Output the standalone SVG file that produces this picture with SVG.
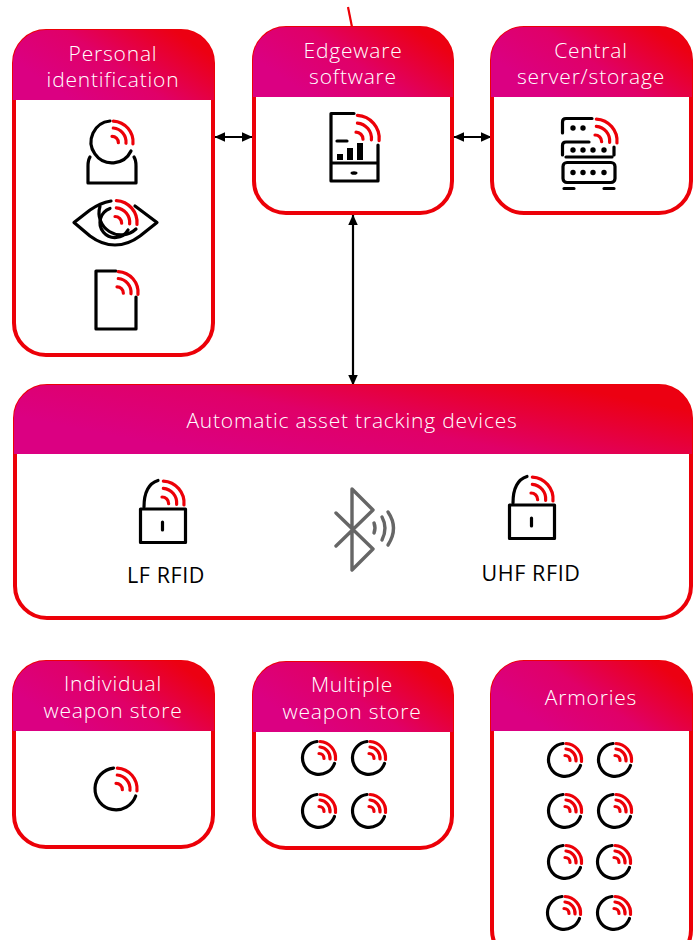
<svg xmlns="http://www.w3.org/2000/svg" width="699" height="940" viewBox="0 0 699 940">
<style>
.box{fill:#fff;stroke:#ec0008;stroke-width:4}
.hd{fill:url(#g);stroke:url(#g);stroke-width:2}
.t{font-family:"Open Sans","Liberation Sans",sans-serif;font-weight:300;font-size:21px;letter-spacing:0.8px;fill:#fff;text-anchor:middle}
.l{font-family:"Open Sans","Liberation Sans",sans-serif;font-weight:400;font-size:21.5px;letter-spacing:0.6px;fill:#000;text-anchor:middle}
.k{fill:none;stroke:#000;stroke-width:3.2;stroke-linecap:round;stroke-linejoin:round;vector-effect:non-scaling-stroke}
.r{fill:none;stroke:#ec0008;stroke-width:3.2;stroke-linecap:round;vector-effect:non-scaling-stroke}
.gr{fill:none;stroke:#666;stroke-width:3.4;stroke-linecap:round;stroke-linejoin:round}
.cn{fill:none;stroke:#000;stroke-width:2.2}
</style>
<defs>
<linearGradient id="g" x1="0" y1="0.75" x2="1" y2="0.25">
<stop offset="0.12" stop-color="#db0082"/><stop offset="0.5" stop-color="#e00068"/><stop offset="0.95" stop-color="#ec0012"/>
</linearGradient>
<marker id="a" viewBox="0 0 10 10" refX="9.500" refY="5" markerWidth="11" markerHeight="11" markerUnits="userSpaceOnUse" orient="auto-start-reverse"><path d="M0,0.5 L10,5 L0,9.500 Z" fill="#000"/></marker>
<g id="wifi">
<path class="r" d="M1,-16.500 A16.500,16.500 0 0 1 16.500,1.500"/>
<path class="r" d="M1,-11 A11,11 0 0 1 11,1"/>
<path class="r" d="M0,-4.500 A5,5 0 0 1 5,0.500"/>
</g>
<g id="ring">
<path class="k" d="M-2,-16.500 A16.500,16.500 0 1 0 15.500,5.500"/>
<use href="#wifi"/>
</g>
</defs>

<g id="connectors">
<path d="M348,7 L352,27" fill="none" stroke="#ec0008" stroke-width="2.200"/>
<path class="cn" d="M215,137 H252" marker-start="url(#a)" marker-end="url(#a)"/>
<path class="cn" d="M454,137 H491" marker-start="url(#a)" marker-end="url(#a)"/>
<path class="cn" d="M353,215 V385" marker-start="url(#a)" marker-end="url(#a)"/>
</g>

<g id="personal">
<rect class="box" x="14" y="31" width="199" height="324" rx="32"/>
<path class="hd" d="M14,99 V63 A32,32 0 0 1 46,31 H181 A32,32 0 0 1 213,63 V99 Z"/>
<text class="t" x="113" y="61">Personal</text>
<text class="t" x="113" y="87">identification</text>
<path class="k" d="M110,121 A21,21 0 1 0 131,151"/>
<use href="#wifi" transform="translate(112,142) scale(1.27)"/>
<path class="k" d="M90,157 Q88,160 88,166 V183 H136 V166 Q136,160 134,157"/>
<path class="k" d="M111,201 Q100,203 90,210 L74,222.500 L90,236 Q102,245 115,245 Q128,245 140,236 L157,222.500 L143,212 L135,206"/>
<path class="k" d="M100,206.400 A22,22 0 0 0 136,229"/>
<path class="k" d="M110,208.400 A15,15 0 1 0 128,230"/>
<use href="#wifi" transform="translate(115,222.500) scale(1.33)"/>
<path class="k" d="M116,271 H96 V329 H136 V297"/>
<use href="#wifi" transform="translate(117,292.500) scale(1.27)"/>
</g>

<g id="edgeware">
<rect class="box" x="254" y="28" width="198" height="185" rx="32"/>
<path class="hd" d="M254,96 V60 A32,32 0 0 1 286,28 H420 A32,32 0 0 1 452,60 V96 Z"/>
<text class="t" x="353" y="57.500">Edgeware</text>
<text class="t" x="353" y="83.500">software</text>
<path class="k" d="M354,113.500 H331 V181 H378 V145 M331,163 H378 M337,141 H347"/>
<use href="#wifi" transform="translate(356,138.500) scale(1.4)"/>
<ellipse cx="354" cy="173" rx="3.500" ry="1.800" fill="#000"/>
<rect x="337" y="154" width="6" height="6" fill="#000"/>
<rect x="347" y="148" width="6" height="12" fill="#000"/>
<rect x="357" y="143" width="6" height="17" fill="#000"/>
</g>

<g id="central">
<rect class="box" x="492" y="28" width="199" height="185" rx="32"/>
<path class="hd" d="M492,96 V60 A32,32 0 0 1 524,28 H659 A32,32 0 0 1 691,60 V96 Z"/>
<text class="t" x="591" y="57.500">Central</text>
<text class="t" x="591" y="83.500">server/storage</text>
<path class="k" d="M592,118.500 H566 Q562.500,118.500 562.500,122 V133 M589,142 H566 Q562.500,142 562.500,145.500 V155 M566,157 H612 M614,147 V155"/>
<rect class="k" x="563" y="162.500" width="52" height="20" rx="4"/>
<path class="k" d="M564,188.500 H574 M604,188.500 H614"/>
<g fill="#000"><circle cx="573" cy="128" r="2.700"/><circle cx="583" cy="128" r="2.700"/><circle cx="573" cy="150" r="2.700"/><circle cx="583" cy="150" r="2.700"/><circle cx="593" cy="150" r="2.700"/><circle cx="604" cy="150" r="2.700"/><circle cx="573" cy="172.500" r="2.700"/><circle cx="583" cy="172.500" r="2.700"/><circle cx="593" cy="172.500" r="2.700"/><circle cx="604" cy="172.500" r="2.700"/></g>
<use href="#wifi" transform="translate(595,141) scale(1.33)"/>
</g>

<g id="tracking">
<rect class="box" x="15" y="386" width="676" height="232" rx="32"/>
<path class="hd" d="M15,453 V418 A32,32 0 0 1 47,386 H659 A32,32 0 0 1 691,418 V453 Z"/>
<text class="t" x="352" y="428">Automatic asset tracking devices</text>
<text class="l" x="166" y="583">LF RFID</text>
<text class="l" x="531" y="581">UHF RFID</text>
<g id="lock1">
<path class="k" d="M144,507 C144,491 150,483 158,480.500"/>
<rect class="k" x="140.500" y="509" width="45" height="33.500"/>
<path class="k" d="M162.500,522 V530"/>
<use href="#wifi" transform="translate(162,503) scale(1.33)"/>
</g>
<g id="lock2" transform="translate(369,-4)">
<path class="k" d="M144,507 C144,491 150,483 158,480.500"/>
<rect class="k" x="140.500" y="509" width="45" height="33.500"/>
<path class="k" d="M162.500,522 V530"/>
<use href="#wifi" transform="translate(162,503) scale(1.33)"/>
</g>
<path class="gr" d="M336,513 L373,549 L352,570 V489 L373,510 L336,546"/>
<path class="gr" d="M374,523 Q376,528 374,533 M382,517 Q388,528 382,540 M388,512 Q399,528 388,545"/>
</g>

<g id="individual">
<rect class="box" x="14" y="662" width="199" height="185" rx="32"/>
<path class="hd" d="M14,730 V694 A32,32 0 0 1 46,662 H181 A32,32 0 0 1 213,694 V730 Z"/>
<text class="t" x="113" y="691">Individual</text>
<text class="t" x="113" y="718">weapon store</text>
<use href="#ring" transform="translate(116,789) scale(1.27)"/>
</g>

<g id="multiple">
<rect class="box" x="254" y="663" width="198" height="185" rx="32"/>
<path class="hd" d="M254,731 V695 A32,32 0 0 1 286,663 H420 A32,32 0 0 1 452,695 V731 Z"/>
<text class="t" x="352" y="692">Multiple</text>
<text class="t" x="352" y="719">weapon store</text>
<use href="#ring" transform="translate(319,758)"/>
<use href="#ring" transform="translate(369,758)"/>
<use href="#ring" transform="translate(319,811)"/>
<use href="#ring" transform="translate(369,811)"/>
</g>

<g id="armories">
<rect class="box" x="492" y="662" width="199" height="300" rx="32"/>
<path class="hd" d="M492,730 V694 A32,32 0 0 1 524,662 H659 A32,32 0 0 1 691,694 V730 Z"/>
<text class="t" x="591" y="705">Armories</text>
<use href="#ring" transform="translate(565,760)"/>
<use href="#ring" transform="translate(615,760)"/>
<use href="#ring" transform="translate(565,811)"/>
<use href="#ring" transform="translate(615,811)"/>
<use href="#ring" transform="translate(565,862)"/>
<use href="#ring" transform="translate(614,862)"/>
<use href="#ring" transform="translate(564,913)"/>
<use href="#ring" transform="translate(614,913)"/>
</g>
</svg>
